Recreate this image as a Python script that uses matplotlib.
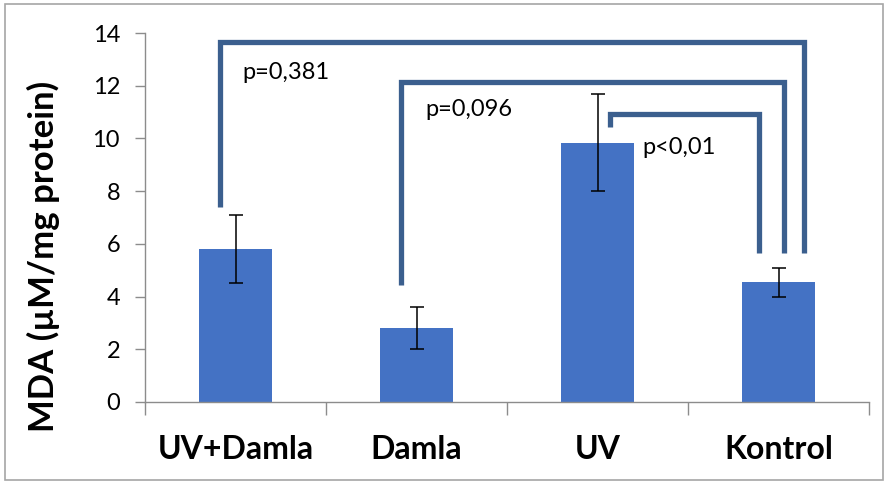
import matplotlib
matplotlib.use("Agg")
import matplotlib.pyplot as plt
from matplotlib.patches import Rectangle

categories = ["UV+Damla", "Damla", "UV", "Kontrol"]
values = [5.8, 2.8, 9.84, 4.55]
errors = [1.28, 0.8, 1.85, 0.55]
yticks = [0, 2, 4, 6, 8, 10, 12, 14]

# significance brackets: (x_left, y_left_bottom, x_right, y_right_bottom, y_top)
brackets = [
    (-0.086, 7.4, 3.14, 5.65, 13.66),
    (0.914, 4.44, 3.03, 5.65, 12.14),
    (2.07, 10.43, 2.89, 5.65, 10.93),
]
p_labels = ["p=0,381", "p=0,096", "p<0,01"]
p_pos = [(0.04, 12.52), (1.05, 11.08), (2.25, 9.64)]

bar_color = "#4472C4"
br_color = "#3B5F8E"
axis_color = "#8C8C8C"

fig = plt.figure(figsize=(8.88, 4.83), dpi=100)
ax = fig.add_axes([145/888, 1-402/483, (869-145)/888, (402-33)/483])

x = list(range(len(categories)))
ax.bar(x, values, width=0.4, color=bar_color, zorder=2)
ax.errorbar(x, values, yerr=errors, fmt="none", ecolor="black", elinewidth=1.1,
            capsize=5, capthick=1.1, zorder=3)

for (xl, yl, xr, yr, yt) in brackets:
    ax.plot([xl, xl, xr, xr], [yl, yt, yt, yr], color=br_color, lw=3.8,
            solid_joinstyle="miter", solid_capstyle="butt", zorder=4, clip_on=False)

for t, (px, py) in zip(p_labels, p_pos):
    ax.text(px, py, t, fontsize=17, family="Lato", va="center", ha="left", color="black")

ax.set_xlim(-0.5, 3.5)
ax.set_ylim(0, 14)
ax.set_yticks(yticks)
ax.set_yticklabels([str(v) for v in yticks], fontsize=17, family="Lato")
ax.set_xticks(x)
ax.set_xticklabels(categories, fontsize=23, fontweight="bold", family="Lato")
ax.set_xticks([-0.5, 0.5, 1.5, 2.5, 3.5], minor=True)
ax.tick_params(axis="x", which="major", length=0, pad=24)
ax.tick_params(axis="x", which="minor", length=9, color=axis_color, width=1)
ax.tick_params(axis="y", length=7, color=axis_color, width=1, pad=11)
for s in ["top", "right"]:
    ax.spines[s].set_visible(False)
for s in ["left", "bottom"]:
    ax.spines[s].set_color(axis_color)
    ax.spines[s].set_linewidth(1)

ax.set_ylabel("MDA (µM/mg protein)", fontsize=25, fontweight="bold", family="Lato")
ax.yaxis.set_label_coords(-0.117, 0.395)

fig.patches.append(Rectangle((5/888, 3/483), 878/888, 476/483, transform=fig.transFigure,
                             fill=False, edgecolor="#A6A6A6", lw=1.2))

fig.savefig("out.png", dpi=100)
